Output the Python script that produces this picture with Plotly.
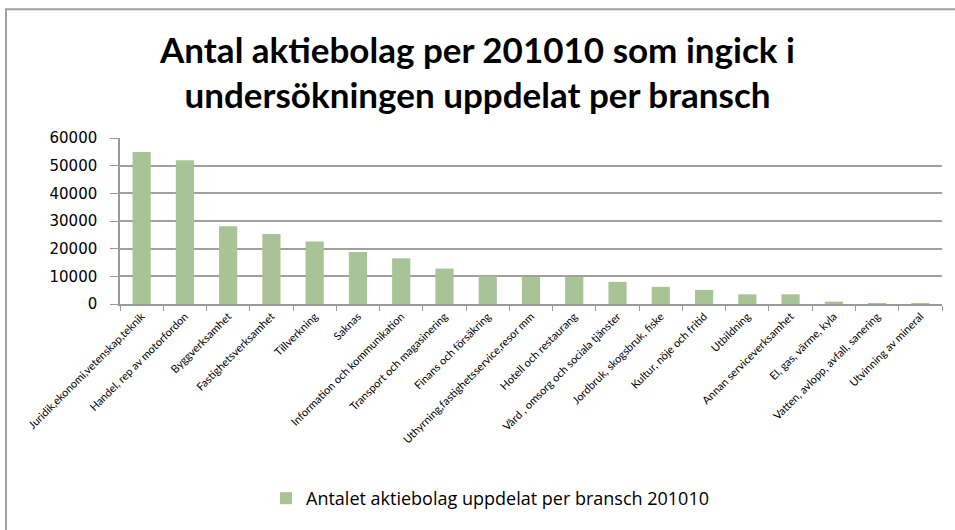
import plotly.graph_objects as go

branscher = [
    "Juridik,ekonomi,vetenskap,teknik",
    "Handel, rep av motorfordon",
    "Byggverksamhet",
    "Fastighetsverksamhet",
    "Tillverkning",
    "Saknas",
    "Information och kommunikation",
    "Transport och magasinering",
    "Finans och försäkring",
    "Uthyrning,fastighetsservice,resor mm",
    "Hotell och restaurang",
    "Vård , omsorg och sociala tjänster",
    "Jordbruk, skogsbruk, fiske",
    "Kultur, nöje och fritid",
    "Utbildning",
    "Annan serviceverksamhet",
    "El, gas, värme, kyla",
    "Vatten, avlopp, avfall, sanering",
    "Utvinning av mineral",
]
antal = [54900, 52000, 28100, 25300, 22600, 18800, 16500, 12800, 10000,
         9800, 9800, 8000, 6200, 5100, 3500, 3500, 850, 80, 40]
y_ticks = [0, 10000, 20000, 30000, 40000, 50000, 60000]

W, H = 955, 530
L, R, T, B = 120, 13, 138, 223
pw, ph = W - L - R, H - T - B

fig = go.Figure()
fig.add_trace(go.Bar(
    x=branscher, y=antal,
    name="Antalet aktiebolag uppdelat per bransch 201010",
    marker=dict(color="#A8C396", line=dict(width=0)),
    showlegend=True,
))

fig.update_layout(
    width=W, height=H,
    margin=dict(l=L, r=R, t=T, b=B),
    paper_bgcolor="white", plot_bgcolor="white",
    bargap=0.58,
    title=dict(
        text="Antal aktiebolag per 201010 som ingick i<br>undersökningen uppdelat per bransch",
        x=0.5, xanchor="center", y=0.882, yanchor="middle",
        font=dict(family="Lato", size=35, color="black", weight="bold"),
    ),
    legend=dict(
        orientation="h", x=(490 - L) / pw, xanchor="center",
        y=(H - B - 505) / ph, yanchor="middle",
        font=dict(family="Open Sans", size=18, color="black"),
        itemwidth=30,
    ),
    font=dict(family="Lato", color="black"),
)

fig.update_xaxes(
    type="category", tickangle=-45, automargin=False,
    tickson="boundaries", ticks="outside", ticklen=5, tickcolor="#999999",
    showline=True, linecolor="#999999", linewidth=1.5,
    showgrid=False,
    tickfont=dict(family="Lato", size=11, color="black"),
)
fig.update_yaxes(
    range=[0, 60000], tickvals=y_ticks, tickformat="d", automargin=False,
    ticks="outside", ticklen=8, tickcolor="#999999", ticklabelstandoff=10,
    showline=True, linecolor="#999999", linewidth=1.5,
    showgrid=True, gridcolor="#A0A0A0", gridwidth=1.5,
    zeroline=False,
    tickfont=dict(family="DejaVu Sans", size=15, color="black"),
)

# chart frame (right and bottom edges fall outside the picture)
fig.add_shape(
    type="rect", xref="paper", yref="paper",
    x0=(6 - L) / pw, x1=(W + 60 - L) / pw,
    y0=(H - B - (H + 60)) / ph, y1=(H - B - 7) / ph,
    line=dict(color="#A0A0A0", width=2), fillcolor="rgba(0,0,0,0)",
)

fig.write_html(
    "out.html",
    config={"displayModeBar": False},
    post_script="document.body.style.margin='0';document.body.style.overflow='hidden';",
)
